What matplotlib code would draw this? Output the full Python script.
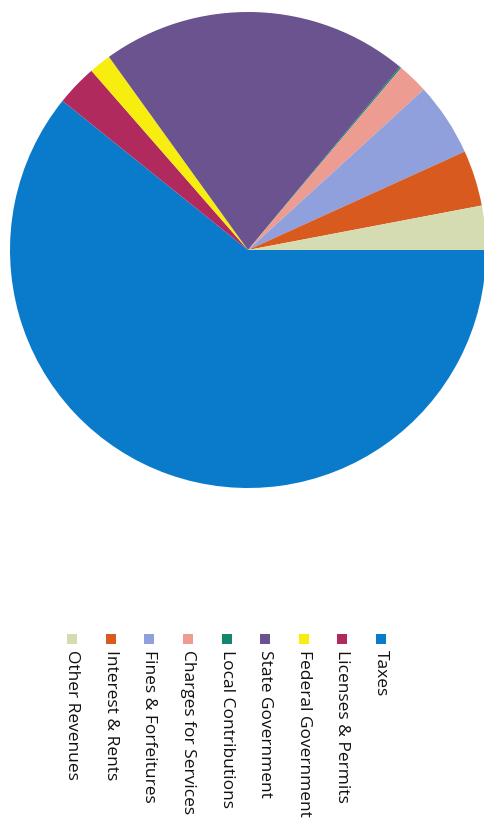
import matplotlib
matplotlib.use("Agg")
import matplotlib.pyplot as plt
from matplotlib.patches import Rectangle

categories = ["Taxes", "Licenses & Permits", "Federal Government", "State Government",
              "Local Contributions", "Charges for Services", "Fines & Forfeitures",
              "Interest & Rents", "Other Revenues"]
values = [60.9, 2.8, 1.5, 21.0, 0.1, 2.1, 5.0, 3.8, 3.0]
colors = ["#0a7acb", "#b02a5e", "#f7ee10", "#6a538e", "#12866e",
          "#ec9c90", "#8fa0dc", "#d85a1e", "#d6dcb2"]

W, H = 485, 823
fig = plt.figure(figsize=(W / 100, H / 100), dpi=100)
ax = fig.add_axes([0, 0, 1, 1])
ax.pie(values, colors=colors, startangle=0, counterclock=False,
       center=(248, H - 250), radius=238,
       wedgeprops=dict(linewidth=0))
ax.set_xlim(0, W)
ax.set_ylim(0, H)
ax.set_aspect("equal")
ax.axis("off")

# rotated legend: columns from right (first entry) to left
x0, dx = 381, -38.6
for i, (lab, col) in enumerate(zip(categories, colors)):
    x = x0 + i * dx
    ax.add_patch(Rectangle((x - 5, H - 644), 10, 10, color=col, lw=0))
    ax.text(x, H - 650, lab, rotation=-90, ha="center", va="top",
            fontsize=12.5, family=["Open Sans", "DejaVu Sans"], color="#111111")

fig.savefig("out.png", dpi=100, facecolor="white")
